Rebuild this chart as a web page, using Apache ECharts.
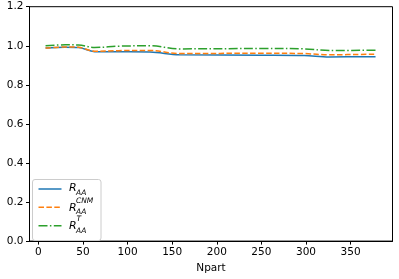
<!DOCTYPE html>
<html><head><meta charset="utf-8">
<script src="https://cdn.jsdelivr.net/npm/echarts@6/dist/echarts.min.js"></script>
<style>html,body{margin:0;padding:0;background:#fff}#c{width:399px;height:279px}</style>
</head><body><div id="c"></div>
<script>
const npart  = [8, 30, 45, 63, 90, 125, 158, 250, 298, 326, 378];
const raa    = [0.988, 0.993, 0.991, 0.970, 0.969, 0.968, 0.954, 0.952, 0.950, 0.943, 0.944];
const raaCNM = [0.988, 0.994, 0.992, 0.972, 0.975, 0.976, 0.960, 0.962, 0.960, 0.954, 0.957];
const raaT   = [1.000, 1.005, 1.004, 0.991, 0.998, 1.000, 0.984, 0.986, 0.984, 0.976, 0.977];
const xTicks = [0, 50, 100, 150, 200, 250, 300, 350];

const pair = (ys) => npart.map((x, i) => [x, ys[i]]);
const font = 'DejaVu Sans';
const blue = '#1f77b4', orange = '#ff7f0e', green = '#2ca02c';

const chart = echarts.init(document.getElementById('c'), null, {renderer: 'canvas'});
const lg = (y, color, dash) => ({type: 'line', shape: {x1: 38.5, y1: y, x2: 61.5, y2: y},
  style: {stroke: color, lineWidth: 1.5, lineDash: dash}, z: 101});
const tx = (x, y, t, size) => ({type: 'text', x: x, y: y, z: 101,
  style: {text: t, font: 'italic ' + size + 'px ' + font, fill: '#000', textVerticalAlign: 'middle', textAlign: 'left'}});
chart.setOption({
  animation: false,
  grid: {left: 29.5, right: 6.5, top: 6.7, bottom: 36.3, show: true, borderColor: '#000', borderWidth: 1},
  xAxis: {
    type: 'value', min: -10, max: 397,
    name: 'Npart', nameLocation: 'middle', nameGap: 21,
    nameTextStyle: {fontFamily: font, fontSize: 10.5, color: '#000'},
    axisLine: {show: true, onZero: false, lineStyle: {color: '#000', width: 1}},
    axisTick: {show: true, inside: false, length: 3.5, lineStyle: {color: '#000'}, customValues: xTicks},
    axisLabel: {fontFamily: font, fontSize: 10.5, color: '#000', margin: 6, customValues: xTicks},
    splitLine: {show: false}
  },
  yAxis: {
    type: 'value', min: 0, max: 1.2, interval: 0.2,
    axisLine: {show: true, onZero: false, lineStyle: {color: '#000', width: 1}},
    axisTick: {show: true, inside: false, length: 3.5, lineStyle: {color: '#000'}},
    axisLabel: {fontFamily: font, fontSize: 10.5, color: '#000', margin: 6,
      formatter: v => v.toFixed(1)},
    splitLine: {show: false}
  },
  series: [
    {name: 'RAA', type: 'line', data: pair(raa), showSymbol: false, symbol: 'none', smooth: 0.35,
      lineStyle: {color: blue, width: 1.5}, z: 3},
    {name: 'RAA_CNM', type: 'line', data: pair(raaCNM), showSymbol: false, symbol: 'none', smooth: 0.35,
      lineStyle: {color: orange, width: 1.5, type: [5.5, 2.4]}, z: 4},
    {name: 'RAA_T', type: 'line', data: pair(raaT), showSymbol: false, symbol: 'none', smooth: 0.35,
      lineStyle: {color: green, width: 1.5, type: [9, 2.4, 1.5, 2.4]}, z: 5}
  ],
  graphic: [
    {type: 'rect', shape: {x: 32.5, y: 179.5, width: 68.5, height: 61, r: 2.5},
      style: {fill: 'rgba(255,255,255,0.8)', stroke: '#cccccc', lineWidth: 1}, z: 100},
    lg(189, blue, null),
    lg(207.3, orange, [5.5, 2.4]),
    lg(225.7, green, [9, 2.4, 1.5, 2.4]),
    tx(69, 188.5, 'R', 11), tx(76, 193.3, 'AA', 7.5),
    tx(69, 207.8, 'R', 11), tx(76, 200.8, 'CNM', 7.5), tx(76, 212.4, 'AA', 7.5),
    tx(69, 226.3, 'R', 11), tx(76.5, 219.3, 'T', 7.5), tx(76, 231, 'AA', 7.5)
  ]
});
</script></body></html>
